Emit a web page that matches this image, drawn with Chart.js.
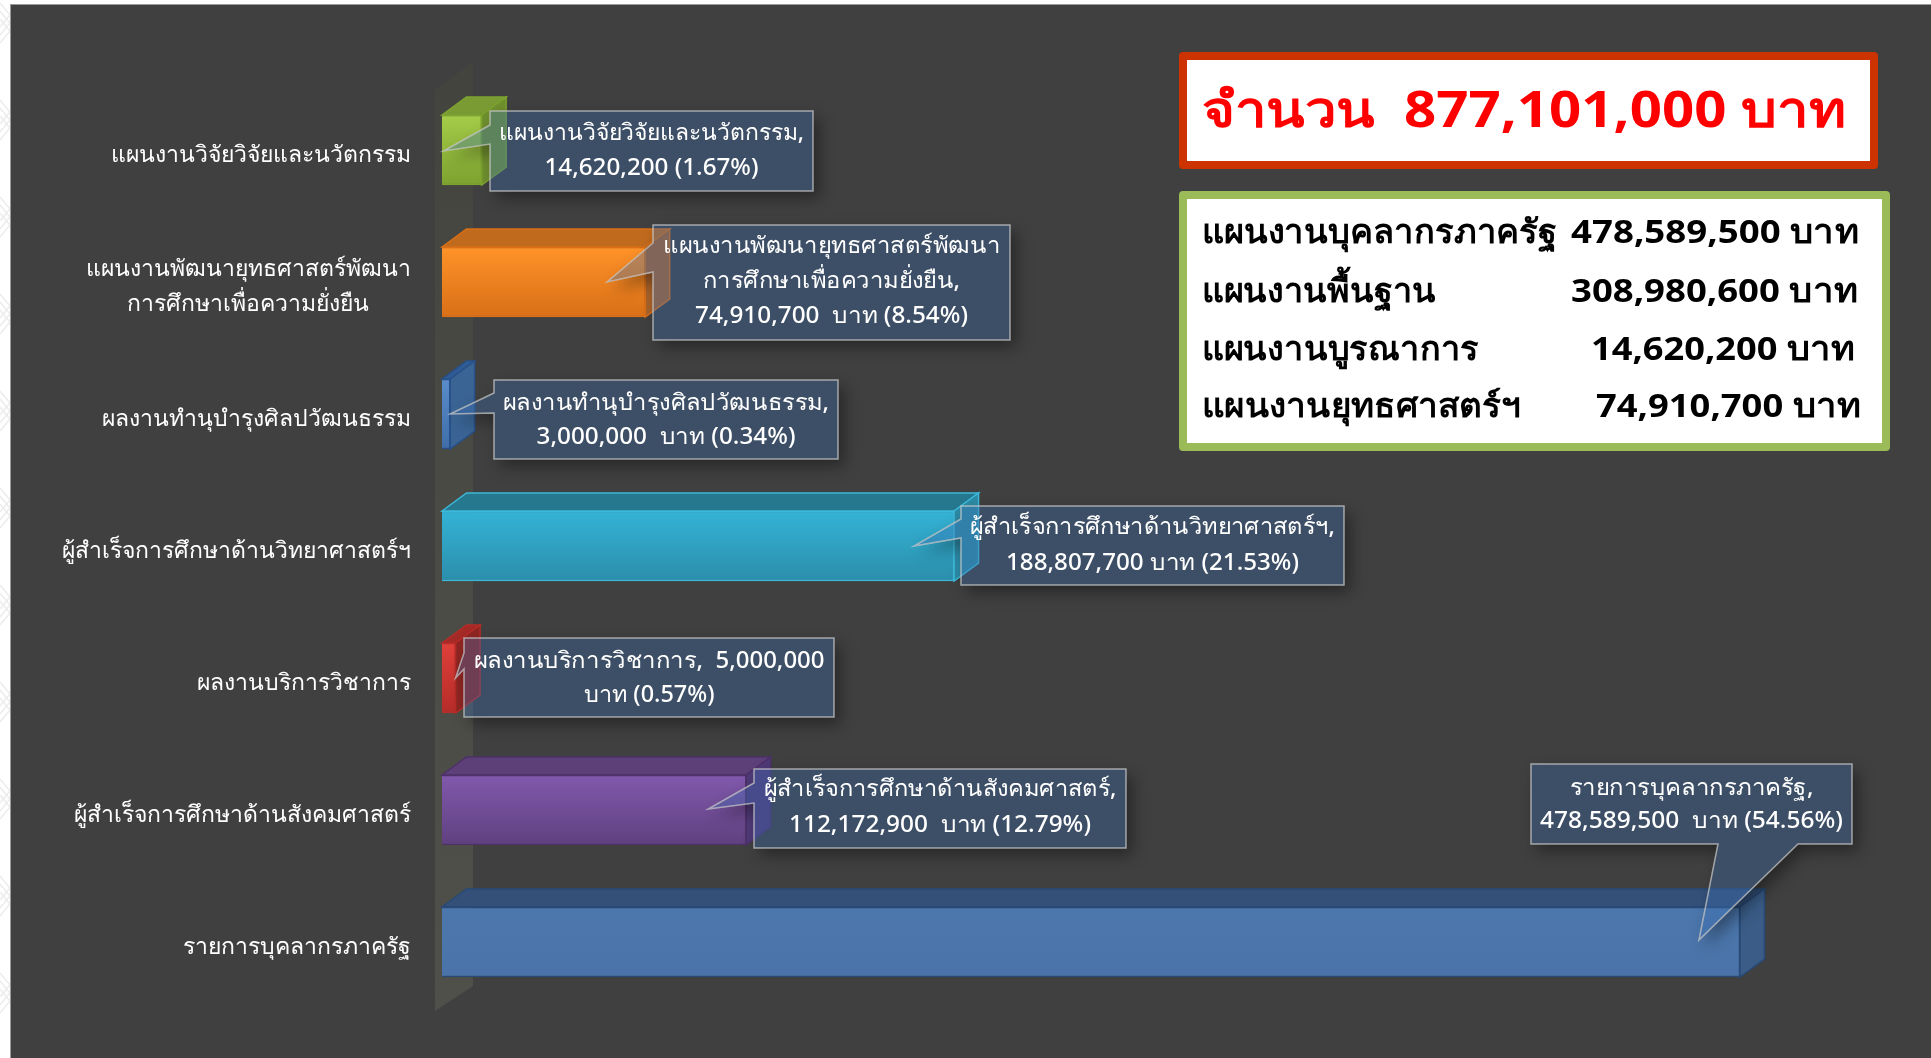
<!DOCTYPE html>
<html>
<head>
<meta charset="utf-8">
<style>
  html, body { margin: 0; padding: 0; background: #ffffff; overflow: hidden; }
  canvas { display: block; }
</style>
<script src="https://cdn.jsdelivr.net/npm/chart.js@4"></script>
</head>
<body>
<canvas id="budget" width="1931" height="1058"></canvas>
<script>
// ตัวเลขงบประมาณ
const categories = [
  'แผนงานวิจัยวิจัยและนวัตกรรม',
  ['แผนงานพัฒนายุทธศาสตร์พัฒนา', 'การศึกษาเพื่อความยั่งยืน'],
  'ผลงานทำนุบำรุงศิลปวัฒนธรรม',
  'ผู้สำเร็จการศึกษาด้านวิทยาศาสตร์ฯ',
  'ผลงานบริการวิชาการ',
  'ผู้สำเร็จการศึกษาด้านสังคมศาสตร์',
  'รายการบุคลากรภาครัฐ'
];
const budgetValues = [14620200, 74910700, 3000000, 188807700, 5000000, 112172900, 478589500];
const calloutTexts = [
  ['แผนงานวิจัยวิจัยและนวัตกรรม,', '14,620,200 (1.67%)'],
  ['แผนงานพัฒนายุทธศาสตร์พัฒนา', 'การศึกษาเพื่อความยั่งยืน,', '74,910,700  บาท (8.54%)'],
  ['ผลงานทำนุบำรุงศิลปวัฒนธรรม,', '3,000,000  บาท (0.34%)'],
  ['ผู้สำเร็จการศึกษาด้านวิทยาศาสตร์ฯ,', '188,807,700 บาท (21.53%)'],
  ['ผลงานบริการวิชาการ,  5,000,000', 'บาท (0.57%)'],
  ['ผู้สำเร็จการศึกษาด้านสังคมศาสตร์,', '112,172,900  บาท (12.79%)'],
  ['รายการบุคลากรภาครัฐ,', '478,589,500  บาท (54.56%)']
];
const totalText = 'จำนวน  877,101,000 บาท';
const summaryNames = ['แผนงานบุคลากรภาครัฐ', 'แผนงานพื้นฐาน', 'แผนงานบูรณาการ', 'แผนงานยุทธศาสตร์ฯ'];
const summaryAmounts = ['478,589,500 บาท', '308,980,600 บาท', '14,620,200 บาท', '74,910,700 บาท'];

// สีของแท่ง
const frontTop = ['#a6cc4a', '#ff9329', '#5a8ccb', '#34b3d6', '#e0403a', '#8159ad', '#4c77ad'];
const frontBottom = ['#7da32f', '#d96f17', '#3f6ea8', '#2b8eab', '#b52c28', '#60407f', '#4a74a9'];
const topFace = ['#7a9a33', '#c06a1d', '#2f5c94', '#26788f', '#a32a26', '#5e4079', '#345078'];
const sideFace = ['#6f8f2e', '#a8622a', '#3a6494', '#2d8aa6', '#8e2622', '#4f3a78', '#3a5c86'];
const barEdge = ['#7da32f', '#d96f17', '#28508a', '#3cb8d8', '#b52c28', '#4d3169', '#274a78'];

// ตำแหน่งกล่องข้อความ (x1, y1, x2, y2) และฐานของหางชี้
const calloutBoxes = [
  [490, 111, 813, 191], [653, 225, 1010, 340], [494, 380, 838, 459], [961, 506, 1344, 585],
  [464, 638, 834, 717], [754, 769, 1126, 848], [1531, 764, 1852, 844]
];
const tailBase = [[125, 144], [243, 272], [393, 413], [519, 538], [653, 669], [783, 803], [1718, 1798]];
const tailBack = [38, 38, 0, 40, 0, 38, 41];
const tailTipY = [151, 282, 414, 546, 678, 809, 940];
const calloutLineY = [[133, 168], [246, 281, 316], [403, 437], [527, 563], [661, 695], [789, 825], [788, 821]];
const calloutLineW = [[305, 214], [337, 257, 273], [326, 259], [365, 293], [351, 131], [353, 302], [244, 303]];

// ความกว้างข้อความในกล่องด้านขวา
const nameEnds = [1557, 1436, 1479, 1521];
const amountStarts = [1571, 1571, 1591, 1596];
const amountEnds = [1859, 1858, 1855, 1861];
const rowBaselines = [243, 302, 360, 417];

const depthX = 24.5, depthY = 18;
const uiFont = '"Noto Sans", "DejaVu Sans", sans-serif';

function fitText(ctx, text, x, y, width) {
  const w = ctx.measureText(text).width;
  ctx.save();
  ctx.translate(x, y);
  ctx.scale(width / w, 1);
  ctx.fillText(text, 0, 0);
  ctx.restore();
}

function tracePolygon(ctx, pts) {
  ctx.beginPath();
  pts.forEach((p, n) => (n ? ctx.lineTo(p[0], p[1]) : ctx.moveTo(p[0], p[1])));
  ctx.closePath();
}

const chartPaint = {
  id: 'chartPaint',
  beforeDraw(chart) {
    const ctx = chart.ctx;
    ctx.save();
    // ลายจาง ๆ ด้านซ้าย
    ctx.strokeStyle = '#ececec';
    ctx.lineWidth = 1.5;
    for (let y = 23; y < 1058; y += 97) {
      [-8, 0, 8].forEach(d => {
        ctx.beginPath();
        ctx.moveTo(0, y - 12 + d);
        ctx.lineTo(10, y + d);
        ctx.lineTo(0, y + 12 + d);
        ctx.stroke();
      });
    }
    ctx.fillStyle = '#9a9a9a';
    ctx.fillRect(10, 4, 1921, 1054);
    ctx.fillStyle = '#404040';
    ctx.fillRect(11, 5, 1920, 1053);
    // ผนังด้านหลังของกราฟ
    const area = chart.chartArea;
    const grad = ctx.createLinearGradient(0, area.top - 22, 0, area.bottom);
    grad.addColorStop(0, '#44443f');
    grad.addColorStop(0.5, '#4b4b45');
    grad.addColorStop(1, '#50504a');
    ctx.fillStyle = grad;
    tracePolygon(ctx, [
      [area.left - 7, area.top + 6],
      [area.left + 31, area.top - 22],
      [area.left + 31, area.bottom - 22],
      [area.left - 7, area.bottom + 3]
    ]);
    ctx.fill();
    ctx.restore();
  },
  beforeDatasetsDraw(chart) {
    const ctx = chart.ctx;
    ctx.save();
    ctx.lineWidth = 1.5;
    chart.getDatasetMeta(0).data.forEach((bar, i) => {
      const top = bar.y - bar.height / 2, bottom = bar.y + bar.height / 2;
      ctx.strokeStyle = barEdge[i];
      ctx.fillStyle = topFace[i];
      tracePolygon(ctx, [[bar.base, top], [bar.base + depthX, top - depthY], [bar.x + depthX, top - depthY], [bar.x, top]]);
      ctx.fill();
      ctx.stroke();
      ctx.fillStyle = sideFace[i];
      tracePolygon(ctx, [[bar.x, top], [bar.x + depthX, top - depthY], [bar.x + depthX, bottom - depthY], [bar.x, bottom]]);
      ctx.fill();
      ctx.stroke();
    });
    ctx.restore();
  },
  afterDatasetsDraw(chart) {
    const ctx = chart.ctx;
    const xScale = chart.scales.x;
    calloutBoxes.forEach((box, i) => {
      const [x1, y1, x2, y2] = box;
      const tip = [xScale.getPixelForValue(budgetValues[i]) - tailBack[i], tailTipY[i]];
      const pts = i === 6
        ? [[x1, y1], [x2, y1], [x2, y2], [tailBase[i][1], y2], tip, [tailBase[i][0], y2], [x1, y2]]
        : [[x1, y1], [x2, y1], [x2, y2], [x1, y2], [x1, tailBase[i][1]], tip, [x1, tailBase[i][0]]];
      // เงาเฉพาะนอกกล่อง เพราะกล่องโปร่งแสง
      ctx.save();
      ctx.beginPath();
      ctx.rect(0, 0, 1931, 1058);
      pts.forEach((p, n) => (n ? ctx.lineTo(p[0], p[1]) : ctx.moveTo(p[0], p[1])));
      ctx.closePath();
      ctx.clip('evenodd');
      tracePolygon(ctx, pts);
      ctx.shadowColor = 'rgba(0,0,0,0.4)';
      ctx.shadowBlur = 16;
      ctx.shadowOffsetX = 6;
      ctx.shadowOffsetY = 7;
      ctx.fillStyle = '#000000';
      ctx.fill();
      ctx.restore();

      ctx.save();
      tracePolygon(ctx, pts);
      ctx.fillStyle = 'rgba(58,110,175,0.35)';
      ctx.fill();
      ctx.lineWidth = 1.5;
      ctx.strokeStyle = 'rgba(205,205,205,0.72)';
      ctx.stroke();
      ctx.fillStyle = '#ffffff';
      ctx.font = '500 23px ' + uiFont;
      ctx.textAlign = 'left';
      ctx.textBaseline = 'middle';
      calloutTexts[i].forEach((line, n) => {
        const w = calloutLineW[i][n];
        fitText(ctx, line, (x1 + x2 - w) / 2, calloutLineY[i][n], w);
      });
      ctx.restore();
    });

    // กล่องยอดรวม
    ctx.save();
    ctx.lineJoin = 'round';
    ctx.fillStyle = '#ffffff';
    ctx.lineWidth = 8;
    ctx.strokeStyle = '#cc3300';
    ctx.fillRect(1183, 56, 691, 109);
    ctx.strokeRect(1183, 56, 691, 109);
    ctx.strokeStyle = '#9bbb59';
    ctx.fillRect(1183, 195, 703, 252);
    ctx.strokeRect(1183, 195, 703, 252);
    ctx.textBaseline = 'alphabetic';
    ctx.textAlign = 'left';
    ctx.fillStyle = '#ff0000';
    ctx.font = 'bold 50px ' + uiFont;
    fitText(ctx, totalText, 1202, 127, 644);
    ctx.fillStyle = '#000000';
    ctx.font = 'bold 33px ' + uiFont;
    summaryNames.forEach((name, i) => fitText(ctx, name, 1202, rowBaselines[i], nameEnds[i] - 1202));
    summaryAmounts.forEach((amount, i) => fitText(ctx, amount, amountStarts[i], rowBaselines[i], amountEnds[i] - amountStarts[i]));
    ctx.restore();
  }
};

new Chart(document.getElementById('budget'), {
  type: 'bar',
  data: {
    labels: categories,
    datasets: [{
      data: budgetValues,
      barThickness: 70,
      borderWidth: 1.5,
      borderColor: barEdge,
      backgroundColor(context) {
        const chart = context.chart, i = context.dataIndex;
        const yScale = chart.scales.y;
        const mid = yScale ? yScale.getPixelForValue(i) : NaN;
        if (!Number.isFinite(mid)) return frontTop[i] || frontTop[0];
        const grad = chart.ctx.createLinearGradient(0, mid - 35, 0, mid + 35);
        grad.addColorStop(0, frontTop[i]);
        grad.addColorStop(1, frontBottom[i]);
        return grad;
      }
    }]
  },
  options: {
    indexAxis: 'y',
    responsive: false,
    animation: false,
    layout: { padding: { top: 84, bottom: 50, left: 0, right: 133 } },
    plugins: { legend: { display: false }, tooltip: { enabled: false } },
    scales: {
      x: { display: false, min: 0, max: 500000000 },
      y: {
        afterFit(scale) { scale.width = 442; },
        grid: { display: false },
        border: { display: false },
        ticks: {
          color: '#ffffff',
          padding: 23,
          labelOffset: 5,
          autoSkip: false,
          font: { family: uiFont, size: 23, weight: '500', lineHeight: 1.52 },
          // บรรทัดที่สองของป้ายสองบรรทัดอยู่กึ่งกลาง
          callback(value) {
            const label = this.getLabelForValue(value);
            return Array.isArray(label) ? [label[0], label[1] + '\u00A0'.repeat(7)] : label;
          }
        }
      }
    }
  },
  plugins: [chartPaint]
});
</script>
</body>
</html>
